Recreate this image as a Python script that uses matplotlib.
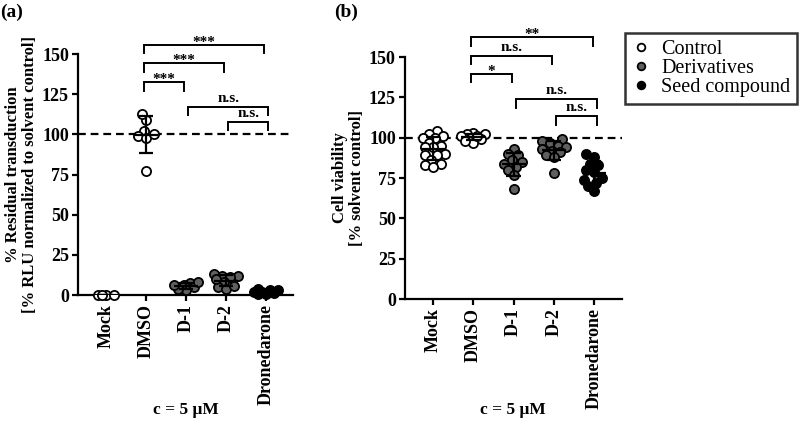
import numpy as np
import matplotlib.pyplot as plt
from matplotlib.lines import Line2D

plt.rcParams['font.family'] = ['Liberation Serif', 'DejaVu Serif']
plt.rcParams['font.weight'] = 'bold'

groups = ['Mock', 'DMSO', 'D-1', 'D-2', 'Dronedarone']
fills = ['white', 'white', '#5f5f5f', '#5f5f5f', 'black']

# (a) residual transduction, % RLU of solvent control
trans_mock = [0, 0, 0, 0]
trans_dmso = [109, 113, 102, 99, 98, 100, 77]
trans_d1 = [7.5, 6.5, 5, 3, 4, 6.5, 8]
trans_d2 = [12, 13, 12, 11, 8, 5, 4, 6, 10]
trans_dron = [3, 2, 1, 0.5, 2, 3, 4, 1.5]

# (b) cell viability, % solvent control
via_mock = [104, 102, 101, 100, 100, 97, 95, 94, 94, 90, 89, 89, 86, 84, 83, 82]
via_dmso = [103, 102, 102, 101, 100, 99, 97, 98, 101]
via_d1 = [93, 90, 89, 86, 85, 84, 82, 80, 77, 68]
via_d2 = [99, 98, 97, 95, 94, 93, 92, 91, 89, 88, 78]
via_dron = [90, 88, 84, 83, 80, 79, 75, 74, 72, 70, 67]

# significance brackets: (group i, group j, leg bottom, bar height, label)
sig_a = [(1, 2, 127, 132.7, '***'), (1, 3, 139, 144.2, '***'),
         (1, 4, 150.5, 155.6, '***'), (2, 4, 112, 117.2, 'n.s.'),
         (3, 4, 102.7, 107.8, 'n.s.')]
sig_b = [(1, 2, 134.7, 139.5, '*'), (1, 3, 145.7, 150.6, 'n.s.'),
         (1, 4, 157, 162.6, '**'), (2, 4, 118.2, 123.8, 'n.s.'),
         (3, 4, 107.9, 113.5, 'n.s.')]


def swarm(vals, px_x=40.0, px_y=1.61, d=7.0, wmax=12):
    # beeswarm offsets (category units), squeezed to +-wmax pixels
    vals = np.asarray(vals, float)
    xs = np.zeros(len(vals))
    placed = []
    cands = sorted(range(-wmax, wmax + 1, 2), key=abs)
    for k in np.argsort(vals):
        y = vals[k] * px_y
        best, best_d = 0, -1
        for c in cands:
            dmin = min([np.hypot(c - px, y - py) for px, py in placed] + [99])
            if dmin >= d:
                best = c
                break
            if dmin > best_d:
                best, best_d = c, dmin
        placed.append((best, y))
        xs[k] = best / px_x
    return xs


def draw(ax, data, sig):
    ax.axhline(100, color='black', lw=1.6, ls=(0, (3.5, 2.2)), zorder=1)
    for i, vals in enumerate(data):
        off = swarm(vals)
        ax.plot(i + off, vals, 'o', ms=6.6, mfc=fills[i], mec='black', mew=1.3,
                zorder=3, clip_on=False)
        m = np.mean(vals)
        sd = np.std(vals, ddof=1)
        ax.hlines(m, i - 0.3, i + 0.3, color='black', lw=1.6, zorder=4)
        ax.vlines(i, m - sd, m + sd, color='black', lw=1.6, zorder=4)
        ax.hlines([m - sd, m + sd], i - 0.18, i + 0.18, color='black', lw=1.6, zorder=4)
    for i, j, lo, hi, lab in sig:
        x0 = i - 0.06 if lab != 'n.s.' or i == 1 else i + 0.06
        x1 = j - 0.04 if i == 1 else j + 0.06
        ax.plot([x0, x0, x1, x1], [lo, hi, hi, lo], color='black', lw=1.4,
                clip_on=False, solid_joinstyle='miter')
        if lab == 'n.s.':
            ax.text((x0 + x1) / 2, hi + 1.2, lab, ha='center', va='bottom',
                    fontsize=11, fontweight='bold', clip_on=False)
        else:
            ax.text((x0 + x1) / 2, hi - 2.5, lab, ha='center', va='bottom',
                    fontsize=11, fontweight='bold', clip_on=False)
    ax.set_xlim(-0.7, 4.68)
    ax.set_ylim(0, 150)
    ax.set_yticks(np.arange(0, 151, 25))
    ax.set_xticks(range(len(groups)))
    ax.set_xticklabels(groups, rotation=90)
    for s in ['top', 'right']:
        ax.spines[s].set_visible(False)
    for s in ['left', 'bottom']:
        ax.spines[s].set_linewidth(1.6)
    ax.tick_params(width=1.6, length=4.5, labelsize=13, pad=2)
    ax.set_xlabel('c = 5 μM', fontsize=12.5, fontweight='bold', va='center')


fig = plt.figure(figsize=(8, 4.29), dpi=100)
ax1 = fig.add_axes([0.0975, 0.312, 0.269, 0.562])
ax2 = fig.add_axes([0.506, 0.303, 0.271, 0.564])

draw(ax1, [trans_mock, trans_dmso, trans_d1, trans_d2, trans_dron], sig_a)
draw(ax2, [via_mock, via_dmso, via_d1, via_d2, via_dron], sig_b)
ax1.xaxis.set_label_coords(0.5, -0.477)
ax2.xaxis.set_label_coords(0.5, -0.459)

ax1.set_ylabel('% Residual transduction\n[% RLU normalized to solvent control]',
               fontsize=12, fontweight='bold', labelpad=3, linespacing=1.05)
ax2.set_ylabel('Cell viability\n[% solvent control]',
               fontsize=12, fontweight='bold', labelpad=3, linespacing=1.05)

fig.text(0.0, 0.972, '(a)', fontsize=14, fontweight='bold', ha='left', va='center')
fig.text(0.418, 0.972, '(b)', fontsize=14, fontweight='bold', ha='left', va='center')

handles = [Line2D([], [], ls='none', marker='o', ms=5.5, mfc=c, mec='black', mew=1.3)
           for c in ['white', '#5f5f5f', 'black']]
leg = fig.legend(handles, ['Control', 'Derivatives', 'Seed compound'],
                 loc='upper left', bbox_to_anchor=(0.781, 0.923),
                 prop={'size': 14.5, 'weight': 'normal'}, frameon=True,
                 fancybox=False, edgecolor='black', handlelength=0.9,
                 handletextpad=0.55, labelspacing=0.0, borderpad=0.35,
                 borderaxespad=0)
leg.get_frame().set_linewidth(1.8)

fig.savefig('out.png', dpi=100)
